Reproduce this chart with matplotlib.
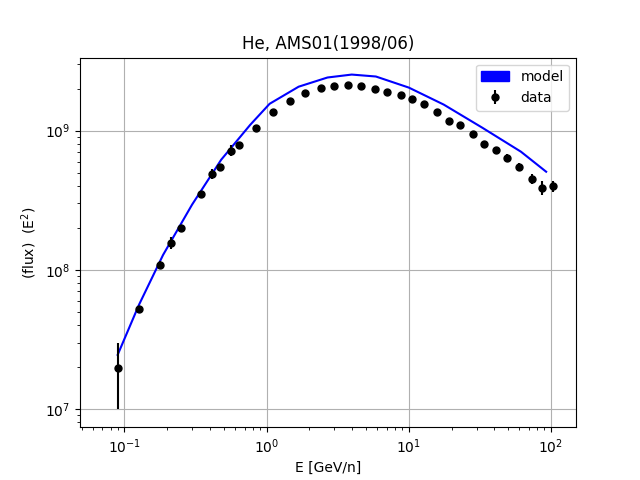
import matplotlib
matplotlib.use("Agg")
import matplotlib.pyplot as plt
from matplotlib.patches import Patch
import numpy as np

data_E = [0.0896,0.1265,0.1786,0.212,0.248,0.345,0.416,0.471,0.560,0.635,0.842,1.116,1.456,1.871,2.40,2.99,3.73,4.64,5.78,7.08,8.82,10.6,12.8,15.8,19.3,23.0,28.1,34.0,40.9,49.4,59.7,73.1,86.9,103]
data_F = [1.97e7,5.24e7,1.09e8,1.56e8,2.0e8,3.52e8,4.91e8,5.51e8,7.18e8,7.93e8,1.05e9,1.37e9,1.64e9,1.88e9,2.04e9,2.11e9,2.14e9,2.11e9,2.0e9,1.91e9,1.79e9,1.70e9,1.56e9,1.37e9,1.18e9,1.09e9,9.5e8,8.06e8,7.3e8,6.4e8,5.51e8,4.52e8,3.89e8,4.0e8]
data_err_lo = [0.97e7,0.3e7,0.6e7,1.5e7,1.0e7,1.5e7,4.0e7,2.5e7,6.5e7,4e7,5e7,4e7,5e7,5e7,6e7,6e7,6e7,6e7,6e7,6e7,6e7,6e7,6e7,5e7,4e7,4e7,3.5e7,4e7,3e7,3.5e7,3.5e7,3.5e7,4.5e7,3.5e7]
data_err_hi = [1.03e7] + data_err_lo[1:]

model_E = [0.0896,0.1265,0.187,0.299,0.479,0.766,1.05,1.68,2.68,3.97,5.87,10.0,17.6,32.9,61.5,92.5]
model_F = [2.45e7,5.6e7,1.28e8,2.94e8,6.18e8,1.10e9,1.56e9,2.07e9,2.41e9,2.53e9,2.45e9,2.04e9,1.54e9,1.05e9,7.06e8,5.07e8]

fig, ax = plt.subplots(figsize=(6.4,4.8), dpi=100)
ax.plot(model_E, model_F, color='blue')
eb = ax.errorbar(data_E, data_F, yerr=[data_err_lo, data_err_hi], fmt='o', color='black', ms=5, label='data')
ax.set_xscale('log'); ax.set_yscale('log')
ax.set_xlim(0.0487, 150); ax.set_ylim(7.4e6, 3.35e9)
ax.grid(True)
ax.set_xlabel('E [GeV/n]')
ax.set_ylabel('(flux)  (E$^2$)')
ax.set_title('He, AMS01(1998/06)')
ax.legend([Patch(color='blue'), eb], ['model', 'data'], loc='upper right')
fig.savefig('out.png')
